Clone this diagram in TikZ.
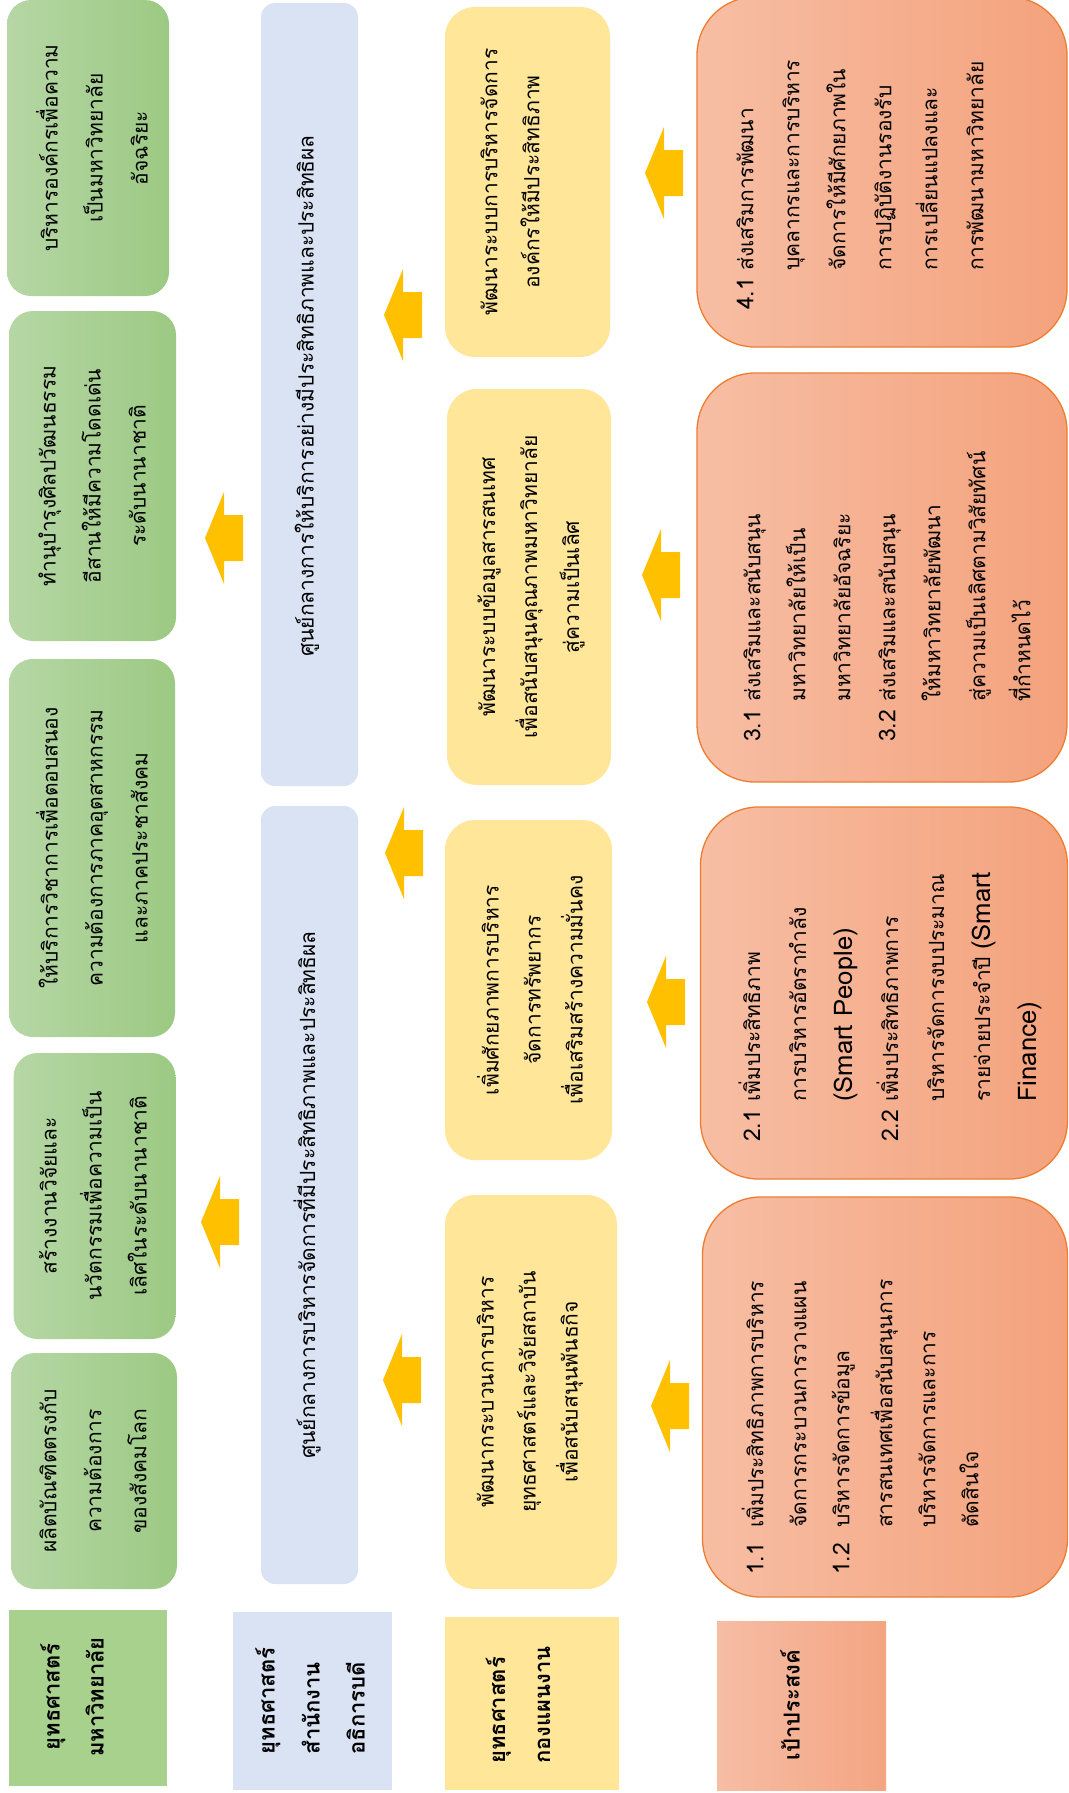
\documentclass[tikz,border=0pt]{standalone}
\usepackage{fontspec}
\setmainfont[Script=Thai]{Loma}
\newfontfamily\latinf[Scale=1.22]{Loma}
\definecolor{gHead}{HTML}{A9D18E}
\definecolor{gL}{HTML}{B6D7A5}
\definecolor{gR}{HTML}{9CC983}
\definecolor{bFill}{HTML}{DAE3F3}
\definecolor{yFill}{HTML}{FFE699}
\definecolor{oL}{HTML}{F7BEA4}
\definecolor{oR}{HTML}{F4A27C}
\definecolor{oBorder}{HTML}{ED7D31}
\definecolor{ohL}{HTML}{F6BDA5}
\definecolor{ohR}{HTML}{F4A582}
\definecolor{arrowc}{HTML}{FFC000}
\newcommand\blockarrow[3]{%
  \fill[arrowc] (#2,#3) -- ++(19,-46) -- ++(0,23) -- ++(19,0) -- ++(0,46) -- ++(-19,0) -- ++(0,23) -- cycle;
  \coordinate (#1) at (#2+19,#3);}
\newcommand\lt[1]{{\latinf #1}}
\newcommand\num[1]{{\fontsize{23}{10}\selectfont #1}}
\begin{document}
\begin{tikzpicture}[x=1pt,y=-1pt,
  box/.style={inner sep=0pt, outer sep=0pt},
  gbox/.style={box, rounded corners=24pt, left color=gL, right color=gR},
  bbox/.style={box, rounded corners=14pt, fill=bFill},
  ybox/.style={box, rounded corners=30pt, fill=yFill},
  obox/.style={box, rounded corners=58pt, left color=oL, right color=oR, draw=oBorder, line width=1.3pt},
  txt/.style={inner sep=0pt, rotate=90, font=\fontsize{21}{45}\selectfont, align=center},
  otxt/.style={inner sep=0pt, rotate=90, font=\fontsize{21}{45}\selectfont, align=left, anchor=west},
  htxt/.style={inner sep=0pt, rotate=90, font=\bfseries\fontsize{22}{45}\selectfont, align=left}
]
\useasboundingbox (0,0) rectangle (1068,1793);
\fill[white] (0,0) rectangle (1068,1793);

% headers
\node[box, fill=gHead, minimum width=158pt, minimum height=176pt] (gh) at (88,1698) {};
\node[box, fill=bFill, minimum width=159pt, minimum height=178pt] (bh) at (312.5,1701) {};
\node[box, fill=yFill, minimum width=174pt, minimum height=173pt] (yh) at (532,1703.5) {};
\node[box, left color=ohL, right color=ohR, minimum width=169pt, minimum height=169pt] (oh) at (801.5,1705.5) {};
\node[htxt, align=center, font=\bfseries\fontsize{22}{44}\selectfont] (ght) at (72,1697) {ยุทธศาสตร์\\มหาวิทยาลัย};
\node[htxt] (bht) at (310,1701) {ยุทธศาสตร์\\สำนักงาน\\อธิการบดี};
\node[htxt] (yht) at (518,1705) {ยุทธศาสตร์\\กองแผนงาน};
\node[htxt] (oht) at (790,1705) {เป้าประสงค์};

% green boxes
\node[gbox, minimum width=166pt, minimum height=236pt] (g1) at (94,1471) {};
\node[gbox, minimum width=162pt, minimum height=286pt] (g2) at (94.5,1196) {};
\node[gbox, minimum width=166pt, minimum height=378pt] (g3) at (92,848) {};
\node[gbox, minimum width=167pt, minimum height=330pt] (g4) at (92.5,476) {};
\node[gbox, minimum width=162pt, minimum height=296pt] (g5) at (88,148) {};
\node[txt] (g1t) at (93,1471) {ผลิตบัณฑิตตรงกับ\\ความต้องการ\\ของสังคมโลก};
\node[txt] (g2t) at (93,1196) {สร้างงานวิจัยและ\\นวัตกรรมเพื่อความเป็น\\เลิศในระดับนานาชาติ};
\node[txt] (g3t) at (92,848) {ให้บริการวิชาการเพื่อตอบสนอง\\ความต้องการภาคอุตสาหกรรม\\และภาคประชาสังคม};
\node[txt] (g4t) at (92,476) {ทำนุบำรุงศิลปวัฒนธรรม\\อีสานให้มีความโดดเด่น\\ระดับนานาชาติ};
\node[txt] (g5t) at (92,148) {บริหารองค์กรเพื่อความ\\เป็นมหาวิทยาลัย\\อัจฉริยะ};

% blue boxes
\node[bbox, minimum width=97pt, minimum height=778pt] (b1) at (309.5,1195) {};
\node[bbox, minimum width=97pt, minimum height=783pt] (b2) at (309.5,394.5) {};
\node[txt] (b1t) at (307,1195) {ศูนย์กลางการบริหารจัดการที่มีประสิทธิภาพและประสิทธิผล};
\node[txt] (b2t) at (307,396) {ศูนย์กลางการให้บริการอย่างมีประสิทธิภาพและประสิทธิผล};

% yellow boxes
\node[ybox, minimum width=172pt, minimum height=394pt] (y1) at (531,1392) {};
\node[ybox, minimum width=167pt, minimum height=340pt] (y2) at (528.5,990) {};
\node[ybox, minimum width=164pt, minimum height=396pt] (y3) at (529,587) {};
\node[ybox, minimum width=165pt, minimum height=350pt] (y4) at (527.5,182) {};
\node[txt, font=\fontsize{21}{42}\selectfont] (y1t) at (530,1392) {พัฒนากระบวนการบริหาร\\ยุทธศาสตร์และวิจัยสถาบัน\\เพื่อสนับสนุนพันธกิจ};
\node[txt, font=\fontsize{21}{42}\selectfont] (y2t) at (530,990) {เพิ่มศักยภาพการบริหาร\\จัดการทรัพยากร\\เพื่อเสริมสร้างความมั่นคง};
\node[txt, font=\fontsize{21}{42}\selectfont] (y3t) at (531,587) {พัฒนาระบบข้อมูลสารสนเทศ\\เพื่อสนับสนุนคุณภาพมหาวิทยาลัย\\สู่ความเป็นเลิศ};
\node[txt, font=\fontsize{21}{42}\selectfont] (y4t) at (510,182) {พัฒนาระบบการบริหารจัดการ\\องค์กรให้มีประสิทธิภาพ};

% orange boxes
\node[obox, minimum width=365pt, minimum height=400pt] (o1) at (885,1397) {};
\node[obox, minimum width=367pt, minimum height=372pt] (o2) at (884,993) {};
\node[obox, minimum width=370pt, minimum height=409pt] (o3) at (882,577.5) {};
\node[obox, minimum width=370pt, minimum height=350pt] (o4) at (882,172) {};
\node[otxt, font=\fontsize{21}{43}\selectfont] (o1t) at (860,1575) {\makebox[47pt][l]{\num{1.1}}เพิ่มประสิทธิภาพการบริหาร\\
\hspace*{47pt}จัดการกระบวนการวางแผน\\
\makebox[47pt][l]{\num{1.2}}บริหารจัดการข้อมูล\\
\hspace*{47pt}สารสนเทศเพื่อสนับสนุนการ\\
\hspace*{47pt}บริหารจัดการและการ\\
\hspace*{47pt}ตัดสินใจ};
\node[otxt, font=\fontsize{21}{46}\selectfont] (o2t) at (890,1142) {\makebox[40pt][l]{\num{2.1}}เพิ่มประสิทธิภาพ\\
\hspace*{40pt}การบริหารอัตรากำลัง\\
\hspace*{40pt}\lt{(Smart People)}\\
\makebox[40pt][l]{\num{2.2}}เพิ่มประสิทธิภาพการ\\
\hspace*{40pt}บริหารจัดการงบประมาณ\\
\hspace*{40pt}รายจ่ายประจำปี \lt{(Smart}\\
\hspace*{40pt}\lt{Finance)}};
\node[otxt, font=\fontsize{21}{45}\selectfont] (o3t) at (887,742) {\makebox[40pt][l]{\num{3.1}}ส่งเสริมและสนับสนุน\\
\hspace*{40pt}มหาวิทยาลัยให้เป็น\\
\hspace*{40pt}มหาวิทยาลัยอัจฉริยะ\\
\makebox[40pt][l]{\num{3.2}}ส่งเสริมและสนับสนุน\\
\hspace*{40pt}ให้มหาวิทยาลัยพัฒนา\\
\hspace*{40pt}สู่ความเป็นเลิศตามวิสัยทัศน์\\
\hspace*{40pt}ที่กำหนดไว้};
\node[otxt, font=\fontsize{21}{46}\selectfont] (o4t) at (860,310) {\makebox[39pt][l]{\num{4.1}}ส่งเสริมการพัฒนา\\
\hspace*{39pt}บุคลากรและการบริหาร\\
\hspace*{39pt}จัดการให้มีศักยภาพใน\\
\hspace*{39pt}การปฏิบัติงานรองรับ\\
\hspace*{39pt}การเปลี่ยนแปลงและ\\
\hspace*{39pt}การพัฒนามหาวิทยาลัย};

% arrows
\blockarrow{a1}{651}{1406}
\blockarrow{a2}{647}{1002}
\blockarrow{a3}{642}{575}
\blockarrow{a4}{645}{173}
\blockarrow{a5}{383}{1380}
\blockarrow{a6}{385}{853}
\blockarrow{a7}{384}{315}
\blockarrow{a8}{201}{1222}
\blockarrow{a9}{205}{538}
\end{tikzpicture}
\end{document}
